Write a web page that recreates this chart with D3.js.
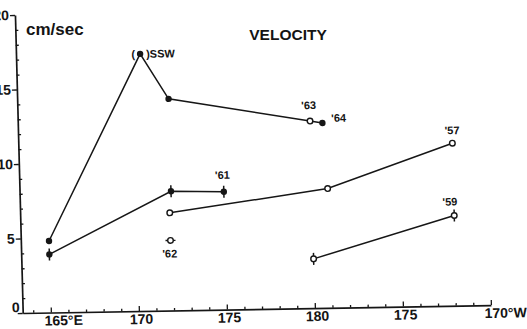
<!DOCTYPE html>
<html>
<head>
<meta charset="utf-8">
<script src="https://cdn.jsdelivr.net/npm/d3@7"></script>
<style>
  html, body { margin: 0; padding: 0; background: #fff; }
  svg { display: block; }
  text { font-family: "Liberation Sans", Arial, sans-serif; font-weight: bold; fill: #141414; }
</style>
</head>
<body>
<div id="chart"></div>
<script>
// longitude ticks (east longitude, 185 = 175°W)
const lonTicks = [165, 170, 175, 180, 185, 190];
const lonTickLabels = ["165°E", "170", "175", "180", "175", "170°W"];
const velTicks = [0, 5, 10, 15, 20];
const velTickLabels = ["0", "5", "10", "15", "20"];

// SSW series ('63 open circle, '64 filled dot at the end)
const sswLon = [165, 170.45, 172, 180, 180.7];
const sswVel = [4.8, 17.25, 14.2, 12.55, 12.4];
const sswOpen = [false, false, false, true, false];

// '61
const s61Lon = [165, 172, 175];
const s61Vel = [3.9, 8.0, 7.9];

// '57
const s57Lon = [171.9, 180.9, 188.05];
const s57Vel = [6.55, 8.0, 10.9];

// '62
const s62Lon = [171.9];
const s62Vel = [4.7];

// '59
const s59Lon = [180, 188.05];
const s59Vel = [3.3, 6.05];

const width = 527;
const height = 329;
const ink = "#161616";

const svg = d3.select("#chart")
  .append("svg")
  .attr("width", width)
  .attr("height", height);

svg.append("rect")
  .attr("width", width)
  .attr("height", height)
  .attr("fill", "#fff");

// the scanned figure is slightly skewed, so the plot group carries a small shear
const g = svg.append("g")
  .attr("transform", "matrix(1,-0.017,0.026,1,22.7,313)");

const x = d3.scaleLinear()
  .domain([163.4, 190])
  .range([0, 468.2]);

const y = d3.scaleLinear()
  .domain([0, 20])
  .range([0, -298]);

// x axis: minor ticks every degree, major every 5
const minorLon = d3.range(164, 190).filter(d => !lonTicks.includes(d));

const xMinor = g.append("g")
  .call(d3.axisBottom(x).tickValues(minorLon).tickSize(-2.5).tickFormat(""));
xMinor.select(".domain").remove();

const xAxis = g.append("g")
  .call(d3.axisBottom(x)
    .tickValues(lonTicks)
    .tickFormat((d, i) => lonTickLabels[i])
    .tickSizeInner(-5)
    .tickSizeOuter(0)
    .tickPadding(3));

xAxis.selectAll("text")
  .style("font-size", "14px")
  .attr("text-anchor", (d, i) => (i === 0 || i === lonTicks.length - 1) ? "start" : "middle")
  .attr("dx", (d, i) => (i === 0 || i === lonTicks.length - 1) ? -7 : 2);

// y axis: major ticks to the left, minor ticks to the right
const minorVel = d3.range(1, 20).filter(d => !velTicks.includes(d));

const yMinor = g.append("g")
  .call(d3.axisLeft(y).tickValues(minorVel).tickSize(-3).tickFormat(""));
yMinor.select(".domain").remove();

const yAxis = g.append("g")
  .call(d3.axisLeft(y)
    .tickValues(velTicks)
    .tickFormat((d, i) => velTickLabels[i])
    .tickSizeInner(5)
    .tickSizeOuter(0)
    .tickPadding(1));

yAxis.selectAll("text")
  .style("font-size", "14px")
  .attr("dx", d => d === 0 ? 3 : 0)
  .attr("dy", d => d === 0 ? "-0.1em" : "0.32em");

g.selectAll(".domain, .tick line")
  .attr("stroke", ink)
  .attr("stroke-width", 1.7);
g.selectAll(".tick line").attr("stroke-width", 1.3);

// data
const rows = (lons, vels) => lons.map((lon, i) => ({ lon, vel: vels[i], i }));
const ssw = rows(sswLon, sswVel);
const s61 = rows(s61Lon, s61Vel);
const s57 = rows(s57Lon, s57Vel);
const s62 = rows(s62Lon, s62Vel);
const s59 = rows(s59Lon, s59Vel);

const line = d3.line()
  .x(d => x(d.lon))
  .y(d => y(d.vel));

[ssw, s61, s57, s59].forEach(series => {
  g.append("path")
    .attr("d", line(series))
    .attr("fill", "none")
    .attr("stroke", ink)
    .attr("stroke-width", 1.5);
});

// vertical bars for '61 and '59, horizontal for '62
g.selectAll(".vbar")
  .data([...s61, ...s59])
  .enter()
  .append("line")
  .attr("x1", d => x(d.lon))
  .attr("x2", d => x(d.lon))
  .attr("y1", d => y(d.vel) - 6)
  .attr("y2", d => y(d.vel) + 6)
  .attr("stroke", ink)
  .attr("stroke-width", 1.5);

g.selectAll(".hbar")
  .data(s62)
  .enter()
  .append("line")
  .attr("x1", d => x(d.lon) - 5)
  .attr("x2", d => x(d.lon) + 5)
  .attr("y1", d => y(d.vel))
  .attr("y2", d => y(d.vel))
  .attr("stroke", ink)
  .attr("stroke-width", 1.4);

// filled points
g.selectAll(".filled")
  .data([...ssw.filter(d => !sswOpen[d.i]), ...s61])
  .enter()
  .append("circle")
  .attr("cx", d => x(d.lon))
  .attr("cy", d => y(d.vel))
  .attr("r", 3.2)
  .attr("fill", ink);

// open points
g.selectAll(".open")
  .data([...ssw.filter(d => sswOpen[d.i]), ...s57, ...s62, ...s59])
  .enter()
  .append("circle")
  .attr("cx", d => x(d.lon))
  .attr("cy", d => y(d.vel))
  .attr("r", 2.8)
  .attr("fill", "#fff")
  .attr("stroke", ink)
  .attr("stroke-width", 1.4);

// series labels, placed relative to a point
const labels = [
  { text: "(", p: ssw[1], dx: -5, dy: 4, anchor: "end" },
  { text: ")SSW", p: ssw[1], dx: 6, dy: 4, anchor: "start" },
  { text: "'63", p: ssw[3], dx: -1, dy: -12, anchor: "middle" },
  { text: "'64", p: ssw[4], dx: 9, dy: -1, anchor: "start" },
  { text: "'61", p: s61[2], dx: -1, dy: -13, anchor: "middle" },
  { text: "'57", p: s57[2], dx: 0, dy: -9, anchor: "middle" },
  { text: "'59", p: s59[1], dx: -4, dy: -10, anchor: "middle" },
  { text: "'62", p: s62[0], dx: -1, dy: 17, anchor: "middle" }
];

g.selectAll(".lab")
  .data(labels)
  .enter()
  .append("text")
  .attr("x", d => x(d.p.lon) + d.dx)
  .attr("y", d => y(d.p.vel) + d.dy)
  .attr("text-anchor", d => d.anchor)
  .style("font-size", "11px")
  .text(d => d.text);

// titles
svg.append("text")
  .attr("x", 26)
  .attr("y", 35)
  .style("font-size", "17px")
  .text("cm/sec");

svg.append("text")
  .attr("x", 288)
  .attr("y", 40)
  .attr("text-anchor", "middle")
  .style("font-size", "15.5px")
  .text("VELOCITY");
</script>
</body>
</html>
